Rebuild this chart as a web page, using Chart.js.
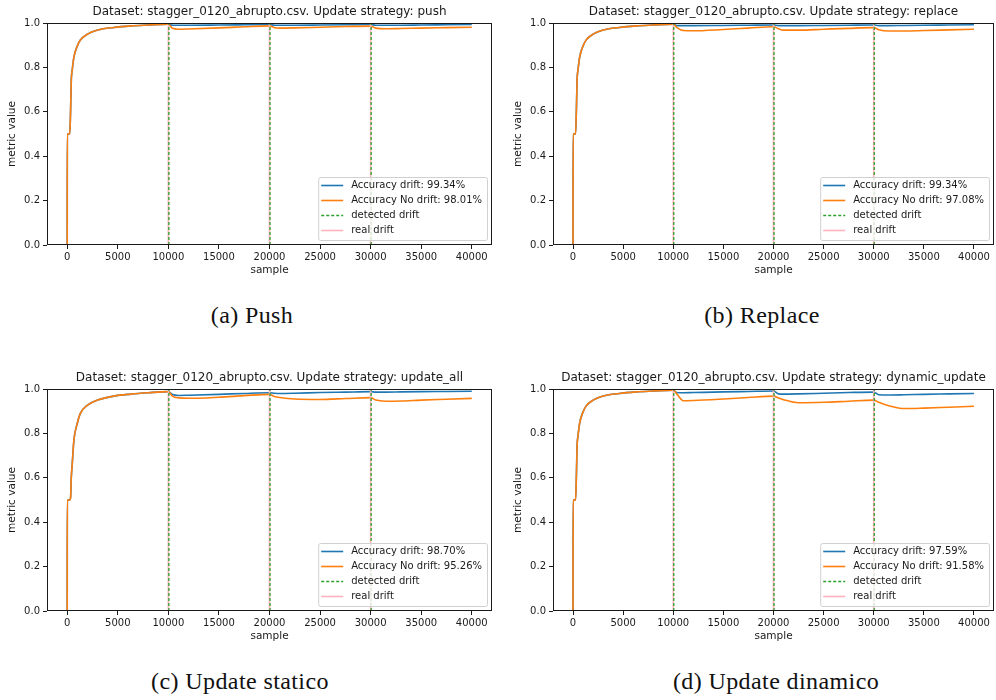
<!DOCTYPE html>
<html>
<head>
<meta charset="utf-8">
<script src="https://cdn.jsdelivr.net/npm/chart.js@4.4.1/dist/chart.umd.min.js"></script>
<style>
  body { margin: 0; background: #fff; width: 996px; height: 700px; overflow: hidden; position: relative; }
  canvas { position: absolute; }
  .caption { position: absolute; font-family: "Liberation Serif", "DejaVu Serif", serif; font-size: 24px; color: #111; text-align: center; width: 400px; letter-spacing: 0.4px; }
</style>
</head>
<body>
<canvas id="c0" width="496" height="290" style="left:0px;top:0px"></canvas>
<canvas id="c1" width="492" height="290" style="left:506px;top:0px"></canvas>
<canvas id="c2" width="496" height="290" style="left:0px;top:366px"></canvas>
<canvas id="c3" width="492" height="290" style="left:506px;top:366px"></canvas>
<div class="caption" style="left:52px;top:302px">(a) Push</div>
<div class="caption" style="left:562px;top:302px">(b) Replace</div>
<div class="caption" style="left:40px;top:668px">(c) Update statico</div>
<div class="caption" style="left:576px;top:668px">(d) Update dinamico</div>
<script>
// sample positions shared by every curve
let samples = [0, 10, 250, 330, 400, 500, 660, 1000, 1300, 2000, 3000, 4600, 6300, 8000, 10000,
  10400, 11000, 12000, 15000, 17500, 20000, 20500, 21000, 22500, 25000, 27500, 30000,
  30500, 31500, 33000, 35000, 37500, 40000];

// warm-up before the first drift
let warmFast = [0, 0.5, 0.5, 0.6, 0.74, 0.79, 0.846, 0.897, 0.923, 0.95, 0.968, 0.98, 0.987, 0.991, 0.995];
let warmSlow = [0, 0.5, 0.5, 0.51, 0.6, 0.665, 0.77, 0.846, 0.89, 0.927, 0.95, 0.968, 0.977, 0.983, 0.988];

// after the first drift (10400 .. 40000)
let pushDrift      = [0.99, 0.99, 0.99, 0.991, 0.992, 0.993, 0.99, 0.99, 0.99, 0.991, 0.992, 0.993, 0.99, 0.99, 0.99, 0.991, 0.992, 0.993];
let pushNoDrift    = [0.976, 0.972, 0.973, 0.978, 0.983, 0.987, 0.979, 0.977, 0.978, 0.981, 0.984, 0.986, 0.977, 0.974, 0.975, 0.977, 0.979, 0.981];
let replaceDrift   = [0.988, 0.988, 0.988, 0.989, 0.99, 0.991, 0.988, 0.988, 0.988, 0.989, 0.99, 0.991, 0.988, 0.988, 0.989, 0.99, 0.991, 0.992];
let replaceNoDrift = [0.978, 0.966, 0.965, 0.971, 0.977, 0.983, 0.974, 0.968, 0.968, 0.972, 0.976, 0.979, 0.97, 0.964, 0.964, 0.966, 0.969, 0.972];
let allDrift       = [0.975, 0.971, 0.972, 0.976, 0.98, 0.983, 0.981, 0.98, 0.981, 0.984, 0.986, 0.988, 0.986, 0.986, 0.987, 0.988, 0.989, 0.99];
let allNoDrift     = [0.968, 0.96, 0.958, 0.963, 0.97, 0.976, 0.966, 0.962, 0.955, 0.953, 0.957, 0.961, 0.95, 0.945, 0.946, 0.95, 0.954, 0.958];
let dynDrift       = [0.983, 0.983, 0.984, 0.987, 0.989, 0.991, 0.978, 0.977, 0.978, 0.981, 0.984, 0.986, 0.974, 0.973, 0.974, 0.976, 0.978, 0.98];
let dynNoDrift     = [0.975, 0.947, 0.948, 0.955, 0.962, 0.968, 0.96, 0.952, 0.938, 0.94, 0.945, 0.95, 0.94, 0.925, 0.912, 0.914, 0.918, 0.922];

let realDrifts = [10000, 20000, 30000];
let detectedDrifts = [10050, 20050, 30050];

let strategies = ['push', 'replace', 'update_all', 'dynamic_update'];
let driftScores = ['99.34', '99.34', '98.70', '97.59'];
let noDriftScores = ['98.01', '97.08', '95.26', '91.58'];

let xTicks = [0, 5000, 10000, 15000, 20000, 25000, 30000, 35000, 40000];
let yTicks = [0, 0.2, 0.4, 0.6, 0.8, 1.0];

const blue = '#1f77b4', orange = '#ff7f0e', green = '#2ca02c', pink = '#ffb3be';
const ink = '#1a1a1a';
const sans = 'DejaVu Sans';

function toPoints(ys) {
  return samples.map((x, i) => ({x: x, y: ys[i]}));
}

function vlines(xs) {
  let pts = [];
  xs.forEach(x => {
    pts.push({x: x, y: 0}, {x: x, y: 1}, {x: x + 1, y: null});
  });
  return pts;
}

// frame, title and in-plot legend, matplotlib style
const decor = {
  id: 'decor',
  afterDatasetsDraw(chart, args, opts) {
    const {ctx, chartArea: a} = chart;
    ctx.save();
    ctx.strokeStyle = ink;
    ctx.lineWidth = 1;
    ctx.strokeRect(Math.round(a.left) + 0.5, Math.round(a.top) + 0.5, Math.round(a.width) - 1, Math.round(a.height) - 1);

    ctx.fillStyle = ink;
    ctx.font = '12px "' + sans + '"';
    ctx.textAlign = 'center';
    ctx.textBaseline = 'middle';
    ctx.fillText(opts.title, (a.left + a.right) / 2, a.top - 11);

    // legend box
    ctx.font = '10px "' + sans + '"';
    const items = chart.data.datasets;
    let tw = 0;
    items.forEach(d => { tw = Math.max(tw, ctx.measureText(d.label).width); });
    const w = 3 + 22 + 8 + tw + 5, h = 63;
    const bx = a.right - 5 - w, by = a.bottom - 5 - h;
    ctx.beginPath();
    ctx.roundRect(bx + 0.5, by + 0.5, w, h, 2);
    ctx.fillStyle = 'rgba(255,255,255,0.8)';
    ctx.fill();
    ctx.strokeStyle = '#d0d0d0';
    ctx.lineWidth = 1;
    ctx.stroke();
    items.forEach((d, i) => {
      const yy = by + 8.5 + i * 15;
      ctx.beginPath();
      ctx.setLineDash(d.borderDash || []);
      ctx.strokeStyle = d.borderColor;
      ctx.lineWidth = 1.6;
      ctx.moveTo(bx + 3, yy);
      ctx.lineTo(bx + 25, yy);
      ctx.stroke();
      ctx.setLineDash([]);
      ctx.fillStyle = ink;
      ctx.textAlign = 'left';
      ctx.fillText(d.label, bx + 33, yy);
    });
    ctx.restore();
  }
};

function makeChart(id, k, drift, noDrift, warm) {
  const ctx = document.getElementById(id).getContext('2d');
  return new Chart(ctx, {
    type: 'line',
    data: {
      datasets: [
        {label: 'Accuracy drift: ' + driftScores[k] + '%', data: toPoints(warm.concat(drift)),
          borderColor: blue, borderWidth: 1.6, order: 4, cubicInterpolationMode: 'monotone'},
        {label: 'Accuracy No drift: ' + noDriftScores[k] + '%', data: toPoints(warm.concat(noDrift)),
          borderColor: orange, borderWidth: 1.6, order: 3, cubicInterpolationMode: 'monotone'},
        {label: 'detected drift', data: vlines(detectedDrifts),
          borderColor: green, borderWidth: 1.3, borderDash: [3, 2], order: 1},
        {label: 'real drift', data: vlines(realDrifts),
          borderColor: pink, borderWidth: 1.6, order: 2}
      ]
    },
    options: {
      responsive: false,
      animation: false,
      devicePixelRatio: 1,
      spanGaps: false,
      elements: {point: {radius: 0}},
      layout: {padding: {top: 23, right: 4, left: 0, bottom: 0}},
      plugins: {
        legend: {display: false},
        tooltip: {enabled: false},
        decor: {title: 'Dataset: stagger_0120_abrupto.csv. Update strategy: ' + strategies[k]}
      },
      scales: {
        x: {
          type: 'linear', min: -2000, max: 42000,
          afterBuildTicks: axis => { axis.ticks = xTicks.map(v => ({value: v})); },
          afterFit: axis => { axis.height = 45; },
          grid: {drawOnChartArea: false, tickLength: 4, color: ink},
          border: {display: false},
          ticks: {color: ink, padding: 2, maxRotation: 0, autoSkip: false,
            font: {family: sans, size: 10}, callback: v => String(v)},
          title: {display: true, text: 'sample', color: ink, font: {family: sans, size: 10.5},
            padding: {top: 0, bottom: 13}}
        },
        y: {
          min: 0, max: 1,
          afterBuildTicks: axis => { axis.ticks = yTicks.map(v => ({value: v})); },
          afterFit: axis => { axis.width = 47; },
          grid: {drawOnChartArea: false, tickLength: 4, color: ink},
          border: {display: false},
          ticks: {color: ink, padding: 3, font: {family: sans, size: 10}, callback: v => v.toFixed(1)},
          title: {display: true, text: 'metric value', color: ink, font: {family: sans, size: 10.5},
            padding: {top: 6, bottom: 0}}
        }
      }
    },
    plugins: [decor]
  });
}

makeChart('c0', 0, pushDrift, pushNoDrift, warmFast);
makeChart('c1', 1, replaceDrift, replaceNoDrift, warmFast);
makeChart('c2', 2, allDrift, allNoDrift, warmSlow);
makeChart('c3', 3, dynDrift, dynNoDrift, warmFast);
</script>
</body>
</html>
